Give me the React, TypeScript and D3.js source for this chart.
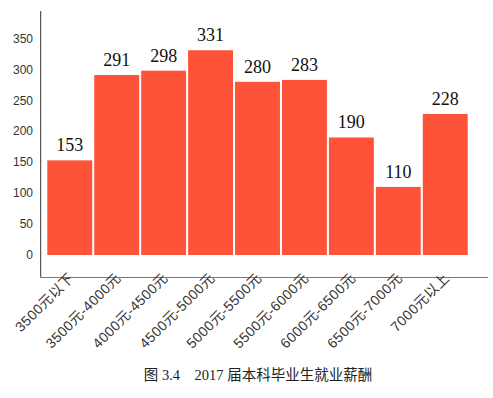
import React from "react";
import * as d3 from "d3";

const categories = [
  "3500元以下",
  "3500元-4000元",
  "4000元-4500元",
  "4500元-5000元",
  "5000元-5500元",
  "5500元-6000元",
  "6000元-6500元",
  "6500元-7000元",
  "7000元以上",
];
const values = [153, 291, 298, 331, 280, 283, 190, 110, 228];
const yTicks = [0, 50, 100, 150, 200, 250, 300, 350];
const caption = "图 3.4    2017 届本科毕业生就业薪酬";

export default function App() {
  const W = 493;
  const H = 398;
  const x = d3.scaleBand<string>().domain(categories).range([47.3, 467.7]).paddingInner(0.043).paddingOuter(0);
  const y = d3.scaleLinear().domain([0, 350]).range([255, 38.5]);
  const axisY = 277.5;
  const axisX = 40.7;
  return (
    <svg width={W} height={H} style={{ position: "absolute", left: 0, top: 0, background: "#fff" }}>
      <rect x={0} y={0} width={W} height={H} fill="#fff" />
      {categories.map((c, i) => (
        <rect key={c} x={x(c)} y={y(values[i])} width={x.bandwidth()} height={y(0) - y(values[i])} fill="#FE5338" />
      ))}
      {categories.map((c, i) => (
        <text
          key={"v" + c}
          x={(x(c) as number) + x.bandwidth() / 2}
          y={y(values[i]) - 9}
          textAnchor="middle"
          fontFamily="'Liberation Serif', 'Times New Roman', serif"
          fontSize={18}
          fill="#111"
        >
          {values[i]}
        </text>
      ))}
      <line x1={axisX} x2={axisX} y1={11} y2={axisY} stroke="#333" strokeWidth={1} />
      <line x1={axisX} x2={488} y1={axisY} y2={axisY} stroke="#777" strokeWidth={1.2} />
      {yTicks.map((t) => (
        <text
          key={"t" + t}
          x={33}
          y={y(t)}
          dy="0.35em"
          textAnchor="end"
          fontFamily="'Liberation Sans', 'DejaVu Sans', sans-serif"
          fontSize={12}
          fill="#333"
        >
          {t}
        </text>
      ))}
      {categories.map((c) => {
        const cx = (x(c) as number) + x.bandwidth() / 2 + 5;
        const cy = 279;
        return (
          <text
            key={"x" + c}
            transform={`translate(${cx},${cy}) rotate(-45)`}
            textAnchor="end"
            fontFamily="'Liberation Sans', 'Noto Sans CJK SC', sans-serif"
            fontSize={14}
            letterSpacing={0.4}
            fill="#333"
          >
            {c}
          </text>
        );
      })}
      <text
        x={258}
        y={380}
        textAnchor="middle"
        fontFamily="'Liberation Serif', 'Noto Sans CJK SC', serif"
        fontSize={14.5}
        fill="#222"
        xmlSpace="preserve"
        style={{ whiteSpace: "pre" }}
      >
        {caption}
      </text>
    </svg>
  );
}
